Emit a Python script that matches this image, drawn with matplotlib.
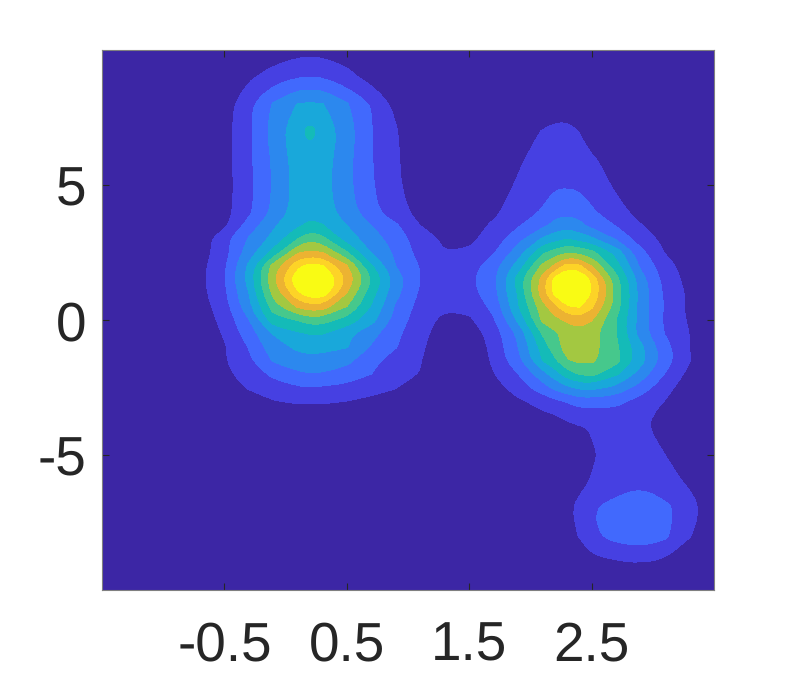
import matplotlib
matplotlib.use('Agg')
import matplotlib.pyplot as plt
from matplotlib.path import Path
from matplotlib.transforms import ScaledTranslation
import numpy as np

plt.rcParams['font.family'] = ['Liberation Sans', 'DejaVu Sans']
plt.rcParams['text.hinting'] = 'no_hinting'

# grid positions the surface was read at
x_vals = [-1.5, -1.1, -0.9, -0.7, -0.5, -0.3, -0.1, 0.1, 0.2, 0.3, 0.5, 0.7, 0.9, 1.1,
          1.3, 1.5, 1.7, 1.9, 2.1, 2.2, 2.3, 2.4, 2.5, 2.7, 2.9, 3.1, 3.3, 3.5]
y_vals = [10, 9, 8, 7, 6, 5, 4, 3.5, 3, 2.5, 2, 1.5, 1, 0.5, 0, -0.5, -1, -1.5, -2, -2.5,
          -3, -3.5, -4, -5, -6, -7, -8, -9, -10]

# surface height, one row per y value, in units of contour level
density = [
    [0, 0, 0, 0, 0, 0, .3, .6, .65, .6, .5, 0, 0, 0, 0, 0, 0, 0, 0, 0, 0, 0, 0, 0, 0, 0, 0, 0],
    [0, 0, 0, 0, 0, .8, 1.5, 1.95, 1.98, 1.95, 1.3, .6, 0, 0, 0, 0, 0, 0, 0, 0, 0, 0, 0, 0, 0, 0, 0, 0],
    [0, 0, 0, 0, .5, 1.8, 3.1, 4.05, 4.1, 4.05, 3.1, 1.95, .7, 0, 0, 0, 0, 0, 0, 0, 0, 0, 0, 0, 0, 0, 0, 0],
    [0, 0, 0, .1, .6, 1.8, 3.4, 4.75, 5.3, 4.75, 3.5, 2.05, 1.1, 0, 0, 0, 0, .5, 1.05, 1.4, 1.45, .95, .3, 0, 0, 0, 0, 0],
    [0, 0, 0, .1, .6, 1.8, 3.15, 4.5, 4.6, 4.5, 3.3, 2.05, 1.15, .2, 0, 0, 0, .85, 1.35, 1.5, 1.55, 1.4, 1.1, .6, 0, 0, 0, 0],
    [0, 0, 0, .1, .6, 1.7, 3.1, 4.4, 4.5, 4.4, 3.25, 2.1, 1.2, .3, 0, 0, .55, 1.1, 1.6, 1.85, 1.9, 1.8, 1.5, .85, 0, 0, 0, 0],
    [0, 0, 0, .1, .6, 1.8, 3.2, 4.5, 4.7, 4.5, 3.5, 2.3, 1.35, .7, 0, 0, .8, 1.5, 2.1, 2.6, 2.75, 2.6, 2.15, 1.3, .7, 0, 0, 0],
    [0, 0, 0, .15, .8, 2.4, 3.85, 4.85, 5.2, 5.05, 4, 3, 2.15, 1, .2, .6, 1.15, 1.9, 2.75, 3.3, 3.6, 3.25, 2.7, 1.95, 1.05, .5, 0, 0],
    [0, 0, 0, .4, 1.65, 3.1, 4.3, 6, 6.7, 6.3, 4.5, 3.5, 2.5, 1.5, .8, .75, 1.45, 2.65, 4.15, 4.6, 5, 4.6, 4.2, 2.9, 1.5, .75, .2, 0],
    [0, 0, 0, .5, 1.6, 3.5, 5.3, 7.9, 8.2, 8, 6.1, 3.95, 2.8, 1.6, 1.02, 1.15, 1.9, 3.5, 5.8, 6.4, 6.95, 6.7, 6.3, 4.6, 2.3, .95, .3, 0],
    [0, 0, .1, .65, 1.85, 4.2, 7.4, 9.7, 10.4, 10.1, 8.1, 5.15, 3, 1.95, 1.3, 1.5, 2.6, 4.4, 7.25, 8.2, 9.4, 9.2, 7.95, 5.4, 2.8, 1.4, .5, .1],
    [0, 0, .1, .7, 1.9, 4.4, 7.75, 10.9, 12, 11.6, 8.8, 6, 3.5, 2, 1.6, 1.75, 2.75, 5.4, 8.4, 10.4, 11.5, 11.3, 9.8, 6.4, 3.45, 1.65, .6, .2],
    [0, 0, .1, .65, 1.8, 4, 7.3, 9.8, 10.7, 10.7, 8, 5.4, 3.3, 1.85, 1.5, 1.6, 2.65, 5.1, 8.6, 10.3, 11.2, 11.1, 10, 6.65, 3.6, 1.8, .8, .2],
    [0, 0, .05, .5, 1.55, 3.7, 6.5, 8.15, 8.6, 8.5, 7, 4.9, 2.85, 1.6, 1.15, 1.3, 2.25, 4.9, 7.6, 8.7, 9.9, 10.1, 9.2, 6.5, 3.55, 1.9, .75, .1],
    [0, 0, 0, .4, 1.3, 2.95, 5.6, 6.05, 6.45, 6.4, 5.6, 4.35, 2.6, 1.4, .75, .8, 1.9, 4.2, 7.2, 7.7, 8.15, 8.45, 8.05, 6, 3.55, 1.8, .85, .1],
    [0, 0, 0, .3, 1.1, 2.5, 4.05, 4.85, 5.05, 5.05, 4.25, 3.35, 2.2, 1.35, .4, .4, 1.45, 3.2, 6.1, 6.8, 7.4, 7.6, 7.4, 6, 3.5, 1.95, 1, .1],
    [0, 0, 0, .25, .9, 2.05, 3.55, 4.2, 4.35, 4.3, 4.05, 2.9, 2.05, 1.2, .2, .15, 1.3, 3, 5.4, 6.6, 7.4, 7.6, 7.4, 6.2, 4.25, 2.35, 1, .1],
    [0, 0, 0, .2, .9, 1.8, 3.1, 3.6, 3.65, 3.6, 3.25, 2.3, 1.55, 1.05, .1, 0, 1.2, 2.7, 5, 5.8, 6.9, 7.2, 7.15, 6.35, 4.35, 2.45, 1.05, .1],
    [0, 0, 0, 0, .75, 1.45, 2.2, 2.8, 2.95, 2.9, 2.6, 2, 1.4, .95, 0, 0, .95, 2, 3.6, 4.5, 5.5, 6.05, 6.3, 5.15, 3.55, 1.95, .7, 0],
    [0, 0, 0, 0, .4, 1.1, 1.6, 1.9, 1.95, 1.9, 1.7, 1.4, 1.05, 0, 0, 0, .6, 1.45, 2.6, 3.25, 3.8, 4.2, 4.3, 3.75, 2.55, 1.4, .3, 0],
    [0, 0, 0, 0, 0, .5, .95, 1.15, 1.15, 1.15, 1, .75, .5, 0, 0, 0, 0, .85, 1.35, 1.8, 2.1, 2.45, 2.5, 2.35, 1.6, .97, .2, 0],
    [0, 0, 0, 0, 0, 0, .3, .45, .45, .45, .3, 0, 0, 0, 0, 0, 0, .4, .85, 1, 1.3, 1.45, 1.55, 1.55, 1.2, .8, .1, 0],
    [0, 0, 0, 0, 0, 0, 0, 0, 0, 0, 0, 0, 0, 0, 0, 0, 0, 0, .2, .45, .7, .9, 1.05, 1.25, 1.15, .7, .1, 0],
    [0, 0, 0, 0, 0, 0, 0, 0, 0, 0, 0, 0, 0, 0, 0, 0, 0, 0, 0, 0, .3, .55, .9, 1.3, 1.35, 1, .35, 0],
    [0, 0, 0, 0, 0, 0, 0, 0, 0, 0, 0, 0, 0, 0, 0, 0, 0, 0, 0, .2, .5, .8, 1.05, 1.5, 1.85, 1.35, .85, .2],
    [0, 0, 0, 0, 0, 0, 0, 0, 0, 0, 0, 0, 0, 0, 0, 0, 0, 0, 0, .4, .85, 1.2, 1.95, 2.4, 2.5, 2.3, 1.4, .45],
    [0, 0, 0, 0, 0, 0, 0, 0, 0, 0, 0, 0, 0, 0, 0, 0, 0, 0, 0, .2, .65, 1.05, 1.8, 2.35, 2.6, 2.2, 1.05, .4],
    [0, 0, 0, 0, 0, 0, 0, 0, 0, 0, 0, 0, 0, 0, 0, 0, 0, 0, 0, 0, 0, .2, .6, .85, 1, .75, .3, 0],
    [0, 0, 0, 0, 0, 0, 0, 0, 0, 0, 0, 0, 0, 0, 0, 0, 0, 0, 0, 0, 0, 0, 0, 0, 0, 0, 0, 0],
]

levels = [1, 2, 3, 4, 5, 6, 7, 8, 9, 10]
background = '#3c26a5'
band_colors = ['#4640e2', '#4169fd', '#2c88ee', '#19a8da', '#14bbb8',
               '#46c88c', '#a3c841', '#ecb332', '#fdd327', '#f9fb14']

x_ticks = [-0.5, 0.5, 1.5, 2.5]
x_labels = ['-0.5', '0.5', '1.5', '2.5']
y_ticks = [-5, 0, 5]
y_labels = ['-5', '0', '5']


def round_corners(path):
    # same contour, corners drawn as curves between the edge midpoints
    verts = []
    codes = []
    for poly in path.to_polygons():
        v = poly[:-1]
        mids = (v + np.roll(v, -1, axis=0)) / 2
        verts.append(mids[-1])
        codes.append(Path.MOVETO)
        for corner, mid in zip(v, mids):
            verts += [corner, mid]
            codes += [Path.CURVE3, Path.CURVE3]
        verts.append(mids[-1])
        codes.append(Path.CLOSEPOLY)
    return Path(verts, codes)


W, H = 789, 673
fig = plt.figure(figsize=(W / 100, H / 100), dpi=100)
ax = fig.add_axes([102 / W, 1 - 590 / H, 612 / W, 540 / H])
ax.set_facecolor(background)

X, Y = np.meshgrid(x_vals, y_vals)
Z = np.array(density)

# each band painted over the one below, so no seams between them
for level, color in zip(levels, band_colors):
    cs = ax.contourf(X, Y, Z, levels=[level, 13], colors=[color])
    paths = cs.get_paths()
    paths[:] = [round_corners(p) if len(p.vertices) else p for p in paths]

ax.set_xlim(-1.5, 3.5)
ax.set_ylim(-10, 10)
ax.set_xticks(x_ticks, x_labels)
ax.set_yticks(y_ticks, y_labels)
ax.tick_params(direction='in', top=True, right=True, length=5, width=0.8, color='#262626',
               labelsize=39.5, labelcolor='#262626')
ax.tick_params(axis='x', pad=51)
ax.tick_params(axis='y', pad=11)
for label in ax.get_xticklabels():
    label.set_verticalalignment('baseline')
for label in ax.get_yticklabels():
    label.set_verticalalignment('baseline')
    label.set_transform(label.get_transform() + ScaledTranslation(0, -20 / 100, fig.dpi_scale_trans))
for spine in ax.spines.values():
    spine.set_color('#808080')
    spine.set_linewidth(0.8)

fig.savefig('out.png', dpi=100)
